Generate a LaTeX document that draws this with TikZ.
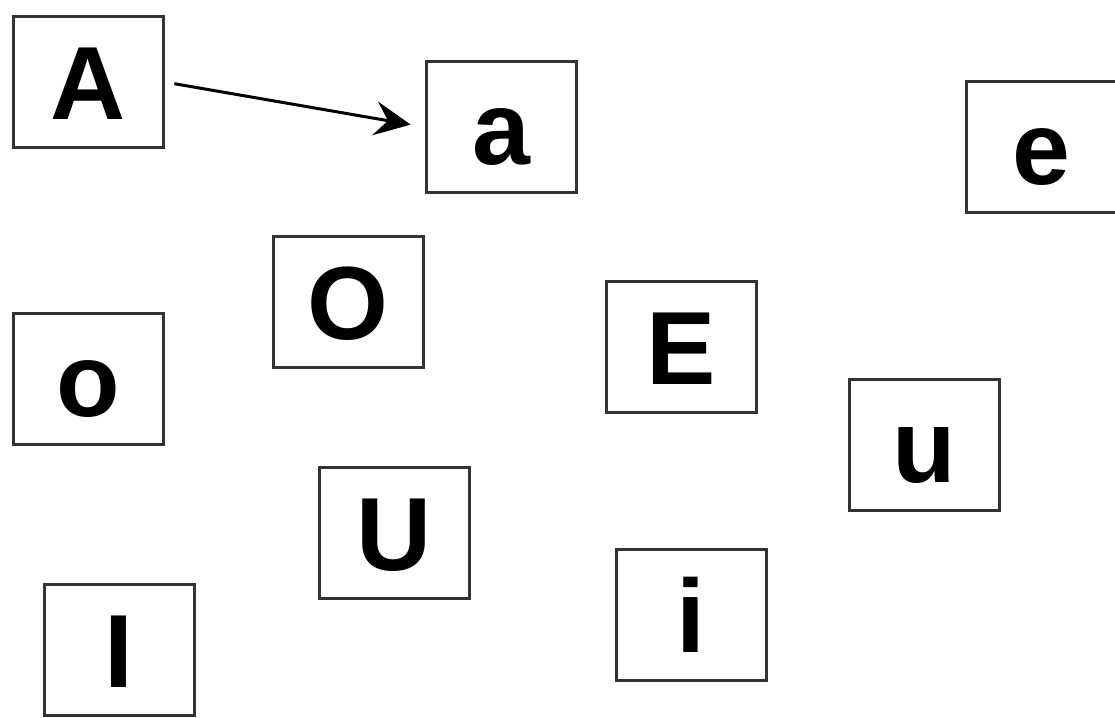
\documentclass[tikz,border=0pt]{standalone}
\usepackage{fontspec}
\setmainfont{Liberation Sans}
\usetikzlibrary{arrows.meta}
\begin{document}
\begin{tikzpicture}[x=1pt,y=1pt,
  letterbox/.style={draw=black!80,line width=3pt,minimum width=150pt,minimum height=131pt,
    inner sep=0pt,text height=75pt,text depth=0pt,
    font=\fontsize{104}{110}\selectfont\bfseries,fill=white},
  link/.style={line width=3pt,-{Stealth[length=36pt,width=34pt,inset=13pt]}}]
\useasboundingbox (0,0) rectangle (1115,717);
\node[letterbox] (A) at (88,635) {A};
\node[letterbox] (a) at (501,590) {a};
\node[letterbox] (e) at (1041,570) {e};
\node[letterbox] (O) at (348,415) {O};
\node[letterbox] (o) at (88,338) {o};
\node[letterbox] (E) at (681,370) {E};
\node[letterbox] (u) at (924,272) {u};
\node[letterbox] (U) at (394,184) {U};
\node[letterbox] (i) at (691,102) {i};
\node[letterbox] (I) at (119,67) {I};
\draw[link,shorten <=10pt,shorten >=14pt] (A.east) -- (a.west);
\end{tikzpicture}
\end{document}
